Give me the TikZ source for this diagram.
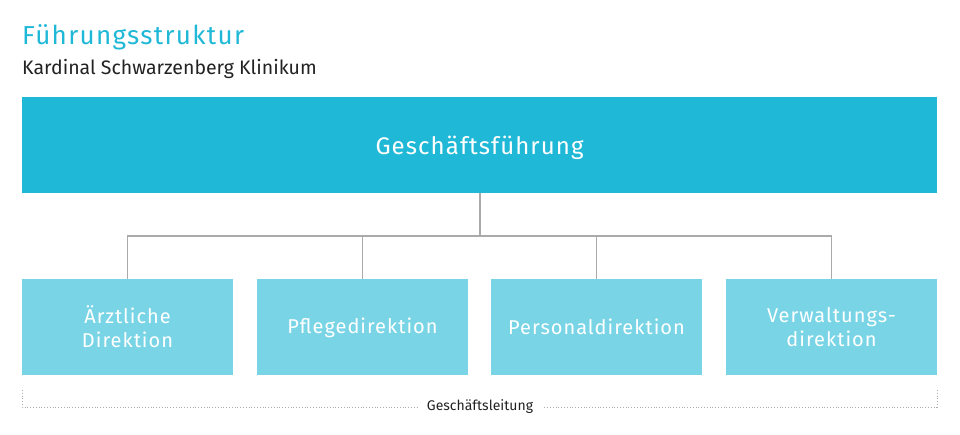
\documentclass[tikz,border=0pt]{standalone}
\usepackage{fontspec}
\setmainfont{Fira Sans}
\newfontfamily\spaced[LetterSpace=5]{Fira Sans}
\newfontfamily\spacedb[LetterSpace=4.5]{Fira Sans}
\definecolor{topc}{HTML}{1FB8D7}
\definecolor{subc}{HTML}{79D5E6}
\definecolor{linec}{HTML}{AAAAAA}
\definecolor{txtc}{HTML}{222222}
\begin{document}
\begin{tikzpicture}[x=1pt,y=-1pt,
  topbox/.style={fill=topc,draw=none,minimum width=915pt,minimum height=96pt,inner sep=0pt,text=white,font=\spacedb\fontsize{24}{28}\selectfont},
  subbox/.style={fill=subc,draw=none,minimum width=211pt,minimum height=96pt,inner sep=0pt,text=white,align=center,font=\spaced\fontsize{20}{24}\selectfont},
  conn/.style={draw=linec,line width=1.4pt},
  brk/.style={draw=linec,line width=0.8pt,dotted}]
\useasboundingbox (0,0) rectangle (960,435);
\node[anchor=base west,text=topc,font=\spaced\fontsize{26}{30}\selectfont,inner sep=0pt] (title) at (22,45) {Führungsstruktur};
\node[anchor=base west,text=txtc,font=\fontsize{19.5}{22}\selectfont,inner sep=0pt] (sub) at (22,75) {Kardinal Schwarzenberg Klinikum};
\node[topbox] (gf) at (479.5,145) {\raisebox{-2.5pt}[\height][\depth]{Geschäftsführung}};
\node[subbox] (a) at (127.5,327) {Ärztliche\\Direktion};
\node[subbox] (b) at (362.5,327) {\raisebox{-1pt}[\height][\depth]{Pflegedirektion}};
\node[subbox] (c) at (596.5,327) {Personaldirektion};
\node[subbox] (d) at (831.5,327) {Verwaltungs-\\direktion};
\coordinate (j) at (480,236);
\draw[conn] (gf.south -| j) -- (j);
\draw[conn] (a.north) |- (j) -| (d.north);
\draw[conn] (b.north) -- (b.north |- j);
\draw[conn] (c.north) -- (c.north |- j);
\node[text=txtc,font=\fontsize{14}{16}\selectfont,inner sep=0pt] (gl) at (480,407) {Geschäftsleitung};
\coordinate (bl) at (22,390);
\coordinate (br) at (937,390);
\draw[brk] (bl) -- (22,407) -- ([xshift=-10pt]gl.west |- 0,407);
\draw[brk] (br) -- (937,407) -- ([xshift=10pt]gl.east |- 0,407);
\end{tikzpicture}
\end{document}
